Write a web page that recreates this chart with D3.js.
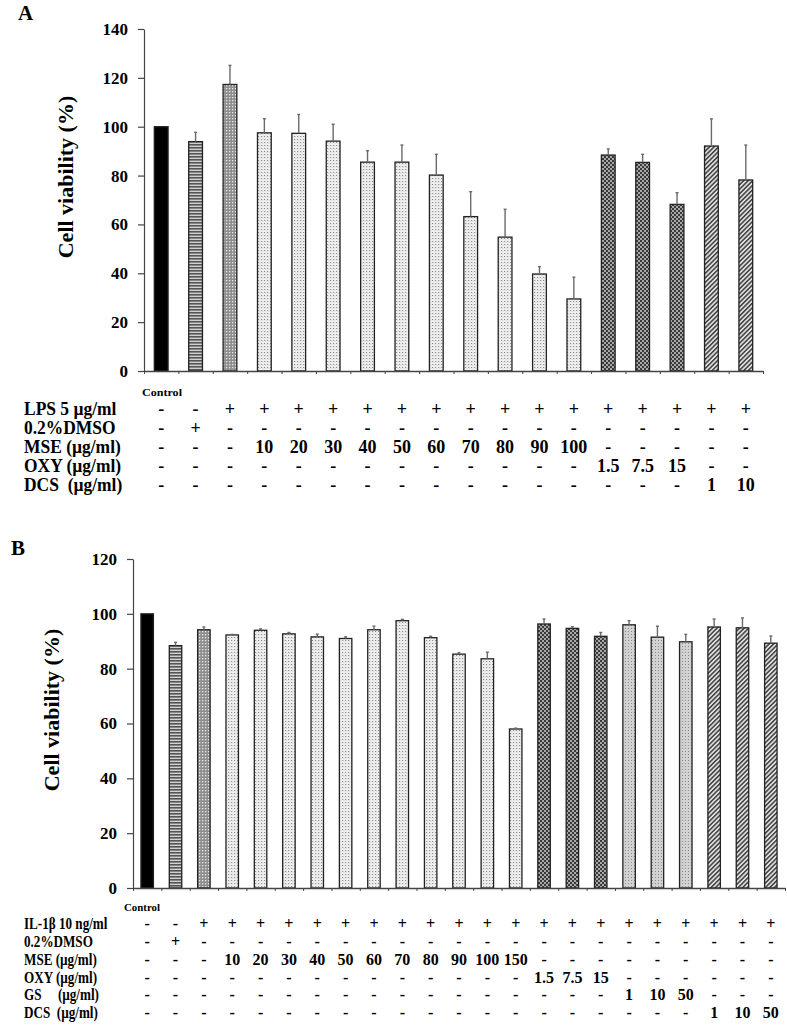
<!DOCTYPE html>
<html>
<head>
<meta charset="utf-8">
<script src="https://cdn.jsdelivr.net/npm/d3@7"></script>
<style>
  html, body { margin: 0; padding: 0; background: #fff; }
  svg text { font-family: "Liberation Serif", "Times New Roman", serif; font-weight: bold; fill: #000; }
</style>
</head>
<body>
<svg id="chart" width="787" height="1027"></svg>
<script>
// ---------- DATA ----------
// Panel A
const catsA = ["Control","DMSO","LPS","MSE10","MSE20","MSE30","MSE40","MSE50","MSE60","MSE70","MSE80","MSE90","MSE100","OXY1.5","OXY7.5","OXY15","DCS1","DCS10"];
const valuesA = [100, 93.9, 117.3, 97.5, 97.3, 94.1, 85.5, 85.5, 80.2, 63.2, 54.8, 39.7, 29.5, 88.4, 85.4, 68.2, 92.1, 78.2];
const errTopA = [100, 97.7, 125.1, 103.3, 105.0, 101.0, 90.2, 92.5, 88.7, 73.4, 66.2, 42.7, 38.4, 90.9, 88.7, 73.0, 103.2, 92.5];
const groupsA = ["control","dmso","stim","mse","mse","mse","mse","mse","mse","mse","mse","mse","mse","oxy","oxy","oxy","dcs","dcs"];
const yTicksA = [0, 20, 40, 60, 80, 100, 120, 140];
const rowLabelsA = ["LPS 5 \u00b5g/ml", "0.2%DMSO", "MSE (\u00b5g/ml)", "OXY (\u00b5g/ml)", "DCS\u00a0 (\u00b5g/ml)"];
const rowsA = [
  ["-","-","+","+","+","+","+","+","+","+","+","+","+","+","+","+","+","+"],
  ["-","+","-","-","-","-","-","-","-","-","-","-","-","-","-","-","-","-"],
  ["-","-","-","10","20","30","40","50","60","70","80","90","100","-","-","-","-","-"],
  ["-","-","-","-","-","-","-","-","-","-","-","-","-","1.5","7.5","15","-","-"],
  ["-","-","-","-","-","-","-","-","-","-","-","-","-","-","-","-","1","10"]
];

// Panel B
const catsB = ["Control","DMSO","IL1b","MSE10","MSE20","MSE30","MSE40","MSE50","MSE60","MSE70","MSE80","MSE90","MSE100","MSE150","OXY1.5","OXY7.5","OXY15","GS1","GS10","GS50","DCS1","DCS10","DCS50"];
const valuesB = [100, 88.4, 94.2, 92.3, 94.0, 92.7, 91.6, 91.0, 94.2, 97.5, 91.3, 85.3, 83.6, 58.0, 96.3, 94.7, 91.8, 96.0, 91.5, 89.8, 95.2, 94.9, 89.3];
const errTopB = [100, 89.6, 95.2, 92.5, 94.5, 93.2, 92.6, 91.6, 95.5, 98.0, 91.8, 85.8, 86.0, 58.3, 98.1, 95.3, 93.2, 97.5, 95.5, 92.5, 98.1, 98.5, 91.9];
const groupsB = ["control","dmso","stim","mse","mse","mse","mse","mse","mse","mse","mse","mse","mse","mse","oxy","oxy","oxy","gs","gs","gs","dcs","dcs","dcs"];
const yTicksB = [0, 20, 40, 60, 80, 100, 120];
const rowLabelsB = ["IL-1\u03b2 10 ng/ml", "0.2%DMSO", "MSE (\u00b5g/ml)", "OXY (\u00b5g/ml)", "GS\u00a0\u00a0\u00a0\u00a0 (\u00b5g/ml)", "DCS\u00a0 (\u00b5g/ml)"];
const rowsB = [
  ["-","-","+","+","+","+","+","+","+","+","+","+","+","+","+","+","+","+","+","+","+","+","+"],
  ["-","+","-","-","-","-","-","-","-","-","-","-","-","-","-","-","-","-","-","-","-","-","-"],
  ["-","-","-","10","20","30","40","50","60","70","80","90","100","150","-","-","-","-","-","-","-","-","-"],
  ["-","-","-","-","-","-","-","-","-","-","-","-","-","-","1.5","7.5","15","-","-","-","-","-","-"],
  ["-","-","-","-","-","-","-","-","-","-","-","-","-","-","-","-","-","1","10","50","-","-","-"],
  ["-","-","-","-","-","-","-","-","-","-","-","-","-","-","-","-","-","-","-","-","1","10","50"]
];

// ---------- DRAW ----------
const svg = d3.select("#chart");
const defs = svg.append("defs");

function pat(id, w, h, bg, draw, transform) {
  const p = defs.append("pattern").attr("id", id).attr("patternUnits", "userSpaceOnUse")
    .attr("width", w).attr("height", h);
  if (transform) p.attr("patternTransform", transform);
  p.append("rect").attr("width", w).attr("height", h).attr("fill", bg);
  draw(p);
}
pat("p-dmso", 4, 3, "#d0d0d0", p => p.append("rect").attr("width", 4).attr("height", 1.6).attr("fill", "#555"));
pat("p-stim", 3, 3, "#8e8e8e", p => p.append("rect").attr("x", 1).attr("y", 1).attr("width", 1.3).attr("height", 1.3).attr("fill", "#e8e8e8"));
pat("p-mse", 3, 3, "#efefef", p => { p.append("rect").attr("x", 0).attr("y", 1).attr("width", 1.2).attr("height", 1).attr("fill", "#8f8f8f"); p.append("rect").attr("x", 1.5).attr("y", 2.5).attr("width", 1).attr("height", 0.5).attr("fill", "#c4c4c4"); });
pat("p-oxy", 4, 4, "#a8a8a8", p => { p.append("rect").attr("width", 2).attr("height", 2).attr("fill", "#3a3a3a"); p.append("rect").attr("x", 2).attr("y", 2).attr("width", 2).attr("height", 2).attr("fill", "#3a3a3a"); });
pat("p-gs", 3, 3, "#d2d2d2", p => p.append("rect").attr("x", 1).attr("y", 1).attr("width", 1).attr("height", 1).attr("fill", "#8a8a8a"));
pat("p-dcs", 3.2, 3.2, "#dedede", p => p.append("rect").attr("width", 1.5).attr("height", 3.2).attr("fill", "#404040"), "rotate(45)");

const fills = { control: "#000", dmso: "url(#p-dmso)", stim: "url(#p-stim)", mse: "url(#p-mse)", oxy: "url(#p-oxy)", gs: "url(#p-gs)", dcs: "url(#p-dcs)" };

function panel(cfg) {
  const g = svg.append("g");
  const n = cfg.cats.length;
  const x = d3.scaleBand().domain(cfg.cats).range([cfg.x0, cfg.x1]).paddingInner(cfg.pad).paddingOuter(cfg.pad / 2);
  const xl = d3.scaleLinear().domain([0, n]).range([cfg.x0, cfg.x1]);
  const y = d3.scaleLinear().domain([0, cfg.ymax]).range([cfg.yBottom, cfg.yTop]);

  // panel letter
  g.append("text").attr("x", cfg.letterX).attr("y", cfg.letterY).attr("font-size", 21).text(cfg.letter);

  // y axis
  const ya = g.append("g").attr("transform", `translate(${cfg.x0},0)`)
    .call(d3.axisLeft(y).tickValues(cfg.yTicks).tickSize(6).tickSizeOuter(0).tickPadding(10).tickFormat(d3.format("d")));
  ya.select(".domain").attr("stroke", "#444").attr("stroke-width", 1.2);
  ya.selectAll(".tick line").attr("stroke", "#444").attr("stroke-width", 1.2);
  ya.selectAll(".tick text").attr("font-size", 17).attr("font-family", "Liberation Serif").attr("font-weight", "bold").attr("fill", "#000");

  // y label
  g.append("text").attr("transform", `translate(${cfg.ylabX},${cfg.ylabY}) rotate(-90)`)
    .attr("text-anchor", "middle").attr("font-size", 22).text("Cell viability (%)");

  // bars
  g.selectAll("rect.bar").data(cfg.cats).join("rect").attr("class", "bar")
    .attr("x", d => x(d)).attr("width", x.bandwidth())
    .attr("y", (d, i) => y(cfg.values[i])).attr("height", (d, i) => y(0) - y(cfg.values[i]))
    .attr("fill", (d, i) => fills[cfg.groups[i]])
    .attr("stroke", "#222").attr("stroke-width", 1.3);

  // error bars (upper only)
  const eb = g.append("g").attr("stroke", "#6a6a6a").attr("stroke-width", 1.4);
  cfg.cats.forEach((c, i) => {
    if (cfg.err[i] <= cfg.values[i]) return;
    const cx = x(c) + x.bandwidth() / 2;
    eb.append("line").attr("x1", cx).attr("x2", cx).attr("y1", y(cfg.values[i])).attr("y2", y(cfg.err[i]));
    eb.append("line").attr("x1", cx - 1.5).attr("x2", cx + 1.5).attr("y1", y(cfg.err[i])).attr("y2", y(cfg.err[i]));
  });

  // x axis with boundary ticks
  const xa = g.append("g").attr("transform", `translate(0,${cfg.yBottom})`)
    .call(d3.axisBottom(xl).tickValues(d3.range(0, n + 1)).tickSize(3).tickSizeOuter(0).tickFormat(""));
  xa.select(".domain").attr("stroke", "#444").attr("stroke-width", 1.4);
  xa.selectAll(".tick line").attr("stroke", "#444");

  // "Control" label
  g.append("text").attr("x", cfg.ctrlX).attr("y", cfg.ctrlY).attr("font-size", 11)
    .attr("textLength", cfg.ctrlW).attr("lengthAdjust", "spacingAndGlyphs").text("Control");

  // table
  cfg.rowLabels.forEach((lab, r) => {
    const by = cfg.rowY0 + r * cfg.rowDy;
    g.append("text").attr("transform", `translate(24,${by}) scale(${cfg.labScale},1)`)
      .attr("font-size", cfg.tableFont).attr("xml:space", "preserve").text(lab);
    g.selectAll(null).data(cfg.rows[r]).join("text")
      .attr("x", (d, i) => x(cfg.cats[i]) + x.bandwidth() / 2)
      .attr("y", by)
      .attr("text-anchor", "middle").attr("font-size", cfg.tableFont)
      .text(d => d);
  });
}

panel({
  cats: catsA, values: valuesA, err: errTopA, groups: groupsA, yTicks: yTicksA, ymax: 140,
  x0: 144, x1: 763, yTop: 29, yBottom: 371, pad: 0.6,
  letter: "A", letterX: 18, letterY: 20,
  ylabX: 73, ylabY: 177,
  ctrlX: 142, ctrlY: 396, ctrlW: 40,
  rowLabels: rowLabelsA, rows: rowsA, rowY0: 415, rowDy: 18.9, tableFont: 18, labScale: 0.97
});

panel({
  cats: catsB, values: valuesB, err: errTopB, groups: groupsB, yTicks: yTicksB, ymax: 120,
  x0: 133, x1: 785, yTop: 559, yBottom: 888, pad: 0.56,
  letter: "B", letterX: 11, letterY: 555,
  ylabX: 59, ylabY: 710,
  ctrlX: 124, ctrlY: 911, ctrlW: 36,
  rowLabels: rowLabelsB, rows: rowsB, rowY0: 929, rowDy: 17.85, tableFont: 16, labScale: 0.82
});
</script>
</body>
</html>
